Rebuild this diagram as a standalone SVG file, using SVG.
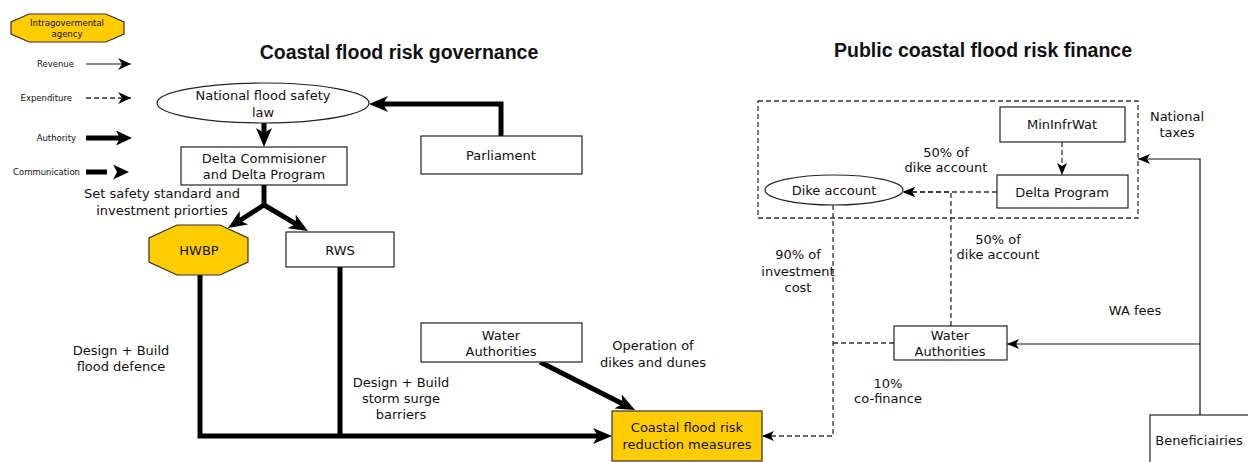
<svg xmlns="http://www.w3.org/2000/svg" width="1248" height="462" viewBox="0 0 1248 462">
<style>
text{font-family:"DejaVu Sans","Liberation Sans",sans-serif;font-size:13px;fill:#111;text-anchor:middle}
.sm{font-size:8.5px}
.lg{text-anchor:end;font-size:8.5px}
.title{font-family:"Liberation Sans",Arial,sans-serif;font-weight:bold;font-size:19.5px}
.box{fill:#fff;stroke:#222;stroke-width:1.2}
.gold{fill:#FFCC00;stroke:#333;stroke-width:1.2}
.thick{fill:none;stroke:#000;stroke-width:5}
.thin{fill:none;stroke:#111;stroke-width:1.2}
.dash{fill:none;stroke:#333;stroke-width:1.3;stroke-dasharray:5 3}
</style>
<defs>
<marker id="hThick" viewBox="0 0 19 16" refX="5" refY="8" markerWidth="19" markerHeight="16" markerUnits="userSpaceOnUse" orient="auto"><path d="M0,0 L19,8 L0,16 L5,8 Z" fill="#000"/></marker>
<marker id="hThickL" viewBox="0 0 16 15" refX="4" refY="7.5" markerWidth="16" markerHeight="15" markerUnits="userSpaceOnUse" orient="auto"><path d="M0,0 L16,7.5 L0,15 L4,7.5 Z" fill="#000"/></marker>
<marker id="hThin" viewBox="0 0 12 10" refX="12" refY="5" markerWidth="12" markerHeight="10" markerUnits="userSpaceOnUse" orient="auto"><path d="M0,0 L12,5 L0,10 L3,5 Z" fill="#000"/></marker>
<marker id="hThinL" viewBox="0 0 13 12" refX="13" refY="6" markerWidth="13" markerHeight="12" markerUnits="userSpaceOnUse" orient="auto"><path d="M0,0 L13,6 L0,12 L4,6 Z" fill="#000"/></marker>
</defs>
<rect width="1248" height="462" fill="#fff"/>

<g id="legend">
<polygon class="gold" points="29,14 106,14 124,22 124,34 106,42 29,42 11,34 11,22"/>
<text class="sm" x="67" y="26">Intragovermental</text>
<text class="sm" x="67" y="37">agency</text>
<text class="lg" x="74" y="67">Revenue</text>
<line class="thin" x1="86" y1="64" x2="131" y2="64" marker-end="url(#hThinL)"/>
<text class="lg" x="72" y="101">Expenditure</text>
<line class="dash" x1="86" y1="98" x2="131" y2="98" marker-end="url(#hThinL)"/>
<text class="lg" x="76" y="141">Authority</text>
<line class="thick" x1="86" y1="138" x2="120" y2="138" marker-end="url(#hThickL)"/>
<text class="lg" x="80" y="175">Communication</text>
<line class="thick" x1="86" y1="172" x2="117" y2="172" stroke-dasharray="21 40" marker-end="url(#hThickL)"/>
</g>

<text class="title" x="399" y="59">Coastal flood risk governance</text>
<text class="title" x="983" y="57">Public coastal flood risk finance</text>

<g id="connectors">
<path class="thick" d="M501,136 V104 H383" marker-end="url(#hThick)"/>
<path class="thick" d="M264,123 V133" marker-end="url(#hThick)"/>
<path class="thick" d="M264,185 V205 L239.8,220.5" marker-end="url(#hThick)"/>
<path class="thick" d="M264,205 L295.9,223.9" marker-end="url(#hThick)"/>
<path class="thick" d="M200,274 V436 H598" marker-end="url(#hThick)"/>
<path class="thick" d="M340,267 V436"/>
<path class="thick" d="M540,362 L622.5,403.7" marker-end="url(#hThick)"/>
<path class="dash" d="M833,205 V436 H762" marker-end="url(#hThin)"/>
<path class="dash" d="M894,343 H833"/>
<path class="dash" d="M951,326 V192 H903" marker-end="url(#hThin)"/>
<path class="dash" d="M997,192 H903" marker-end="url(#hThin)"/>
<path class="dash" d="M1062,142 V175" marker-end="url(#hThin)"/>
<path class="thin" d="M1200,415 V159 H1138" marker-end="url(#hThin)"/>
<path class="thin" d="M1200,344 H1007" marker-end="url(#hThin)"/>
</g>

<g id="finance-frame"><rect class="dash" x="758" y="101" width="380" height="117"/></g>

<g id="law"><ellipse class="box" cx="263" cy="103" rx="106" ry="20"/><text x="263" y="100">National flood safety</text><text x="263" y="117">law</text></g>
<g id="parliament"><rect class="box" x="421" y="136" width="161" height="38"/><text x="501" y="160">Parliament</text></g>
<g id="delta-commissioner"><rect class="box" x="181" y="147" width="166" height="38"/><text x="264" y="163">Delta Commisioner</text><text x="264" y="179">and Delta Program</text></g>
<g id="hwbp"><polygon class="gold" points="177,225 220,225 248,238 248,262 220,275 177,275 149,262 149,238"/><text x="199" y="255">HWBP</text></g>
<g id="rws"><rect class="box" x="286" y="232" width="108" height="35"/><text x="340" y="255">RWS</text></g>
<g id="water-authorities-gov"><rect class="box" x="421" y="323" width="161" height="39"/><text x="501" y="340">Water</text><text x="501" y="356">Authorities</text></g>
<g id="coastal-measures"><rect class="gold" x="612" y="411" width="150" height="50"/><text x="687" y="432">Coastal flood risk</text><text x="687" y="449">reduction measures</text></g>
<g id="dike-account"><ellipse class="box" cx="834" cy="190" rx="69" ry="15"/><text x="834" y="195">Dike account</text></g>
<g id="mininfrwat"><rect class="box" x="1000" y="107" width="125" height="35"/><text x="1062" y="129">MinInfrWat</text></g>
<g id="delta-program"><rect class="box" x="997" y="175" width="131" height="33"/><text x="1062" y="197">Delta Program</text></g>
<g id="water-authorities-fin"><rect class="box" x="894" y="326" width="113" height="34"/><text x="950" y="340">Water</text><text x="950" y="356">Authorities</text></g>
<g id="beneficiaries"><rect class="box" x="1150" y="415" width="102" height="52"/><text x="1199" y="445">Beneficiairies</text></g>

<g id="labels">
<text x="162" y="198">Set safety standard and</text>
<text x="162" y="215">investment priorties</text>
<text x="121" y="355">Design + Build</text>
<text x="121" y="371">flood defence</text>
<text x="401" y="387">Design + Build</text>
<text x="401" y="403">storm surge</text>
<text x="401" y="419">barriers</text>
<text x="653" y="350">Operation of</text>
<text x="653" y="367">dikes and dunes</text>
<text x="946" y="157">50% of</text>
<text x="946" y="172">dike account</text>
<text x="1177" y="121">National</text>
<text x="1177" y="137">taxes</text>
<text x="798" y="259">90% of</text>
<text x="798" y="276">investment</text>
<text x="798" y="292">cost</text>
<text x="998" y="244">50% of</text>
<text x="998" y="259">dike account</text>
<text x="1135" y="315">WA fees</text>
<text x="888" y="388">10%</text>
<text x="888" y="403">co-finance</text>
</g>
</svg>
